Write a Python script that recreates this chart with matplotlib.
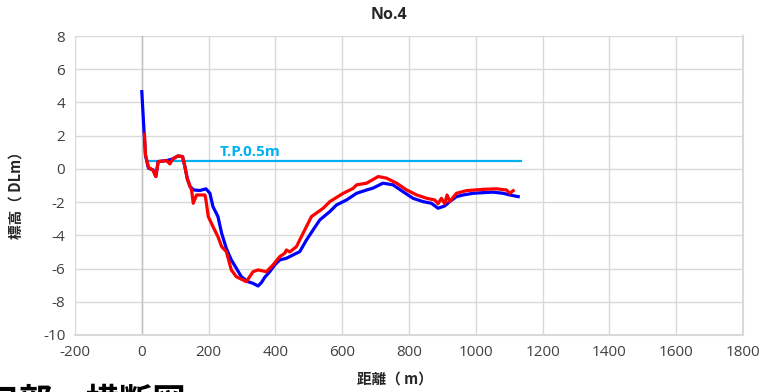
import matplotlib
matplotlib.use("Agg")
import matplotlib.pyplot as plt

# ---- data ----
blue_x = [0, 7, 11, 14, 20, 34, 42, 49, 74, 93, 108, 122, 129, 136, 144, 156, 174, 192,
          204, 213, 228, 239, 253, 268, 283, 298, 318, 333, 348, 358, 368, 383, 398, 413,
          433, 453, 473, 493, 513, 533, 563, 583, 613, 643, 673, 692, 722, 752, 782, 812,
          842, 867, 887, 907, 922, 942, 962, 992, 1022, 1052, 1082, 1102, 1127]
blue_y = [4.65, 2.15, 0.84, 0.54, 0.04, -0.06, -0.46, 0.44, 0.5, 0.6, 0.78, 0.74, 0.14,
          -0.56, -1.06, -1.27, -1.3, -1.2, -1.47, -2.27, -2.87, -3.87, -4.78, -5.48, -5.98,
          -6.49, -6.79, -6.89, -7.05, -6.85, -6.53, -6.19, -5.78, -5.48, -5.38, -5.18,
          -4.98, -4.28, -3.67, -3.07, -2.57, -2.17, -1.87, -1.47, -1.27, -1.16, -0.86,
          -0.96, -1.37, -1.77, -1.97, -2.07, -2.37, -2.23, -1.97, -1.67, -1.57, -1.47,
          -1.43, -1.4, -1.47, -1.57, -1.67]

red_x = [8, 11, 14, 20, 34, 42, 49, 74, 84, 93, 108, 122, 129, 136, 149, 154, 164, 189,
         192, 199, 213, 228, 239, 253, 268, 283, 303, 313, 333, 348, 373, 393, 413, 428,
         433, 443, 463, 483, 508, 543, 563, 603, 633, 643, 673, 708, 733, 763, 793, 823,
         853, 877, 887, 897, 907, 914, 922, 942, 972, 1022, 1062, 1092, 1102, 1112]
red_y = [2.1, 0.84, 0.6, 0.1, -0.1, -0.46, 0.44, 0.5, 0.3, 0.6, 0.78, 0.74, 0.14, -0.6,
         -1.27, -2.07, -1.57, -1.57, -1.87, -2.87, -3.47, -4.08, -4.68, -4.98, -6.08,
         -6.49, -6.69, -6.79, -6.19, -6.08, -6.19, -5.78, -5.28, -5.08, -4.88, -5.0,
         -4.68, -3.87, -2.87, -2.37, -1.97, -1.47, -1.17, -0.96, -0.86, -0.46, -0.56,
         -0.86, -1.27, -1.57, -1.77, -1.87, -2.1, -1.77, -2.1, -1.57, -1.97, -1.47, -1.31,
         -1.23, -1.2, -1.27, -1.47, -1.31]

tp_x = [21, 1135]
tp_y = [0.5, 0.5]
tp_label = "T.P.0.5m"

title = "No.4"
xlabel = "距離（ m）"
ylabel = "標高（ DLm）"
bottom_caption = "河口部　横断図"

xticks = list(range(-200, 1801, 200))
yticks = list(range(-10, 9, 2))

# ---- figure ----
plt.rcParams['font.family'] = ['Open Sans', 'Noto Sans CJK JP', 'DejaVu Sans']
plt.rcParams['axes.unicode_minus'] = False
fig = plt.figure(figsize=(7.63, 3.92), dpi=100)
ax = fig.add_axes([75 / 763, 1 - 335 / 392, (743 - 75) / 763, (335 - 36) / 392])

ax.set_xlim(-200, 1800)
ax.set_ylim(-10, 8)
ax.set_xticks(xticks)
ax.set_yticks(yticks)
ax.grid(True, color='#d9d9d9', linewidth=1.0)
ax.set_axisbelow(True)
ax.tick_params(length=0, labelsize=11, colors='#404040', pad=7)
for side in ['top', 'left']:
    ax.spines[side].set_visible(False)
for side in ['right', 'bottom']:
    ax.spines[side].set_color('#d9d9d9')
    ax.spines[side].set_linewidth(1.5)
ax.axvline(0, color='#bfbfbf', linewidth=1.0, zorder=1)

ax.plot(tp_x, tp_y, color='#00b0f0', linewidth=1.6, zorder=3)
ax.text(232, 0.6, tp_label, color='#00b0f0', fontsize=11, fontweight='bold',
        family=['Open Sans', 'DejaVu Sans'], va='bottom', ha='left')
ax.plot(blue_x, blue_y, color='#0000ff', linewidth=2.3, zorder=4)
ax.plot(red_x, red_y, color='#ff0000', linewidth=2.3, zorder=5)

fig.text(389 / 763, 1 - 15 / 392, title, ha='center', va='center', fontsize=11.5,
         fontweight='bold', color='#262626')
fig.text(395 / 763, 1 - 379 / 392, xlabel, ha='center', va='center', fontsize=10.5,
         fontweight='bold', family=['Noto Sans CJK JP', 'DejaVu Sans'], color='#262626')
fig.text(16 / 763, 1 - 192 / 392, ylabel, ha='center', va='center', fontsize=10.5,
         fontweight='bold', rotation=90, family=['Noto Sans CJK JP', 'DejaVu Sans'],
         color='#262626')
fig.text(-48 / 763, 1 - 386 / 392, bottom_caption, ha='left', va='top', fontsize=24,
         fontweight='bold', family=['Noto Sans CJK JP', 'DejaVu Sans'], color='#000000')

fig.savefig('out.png', dpi=100)
